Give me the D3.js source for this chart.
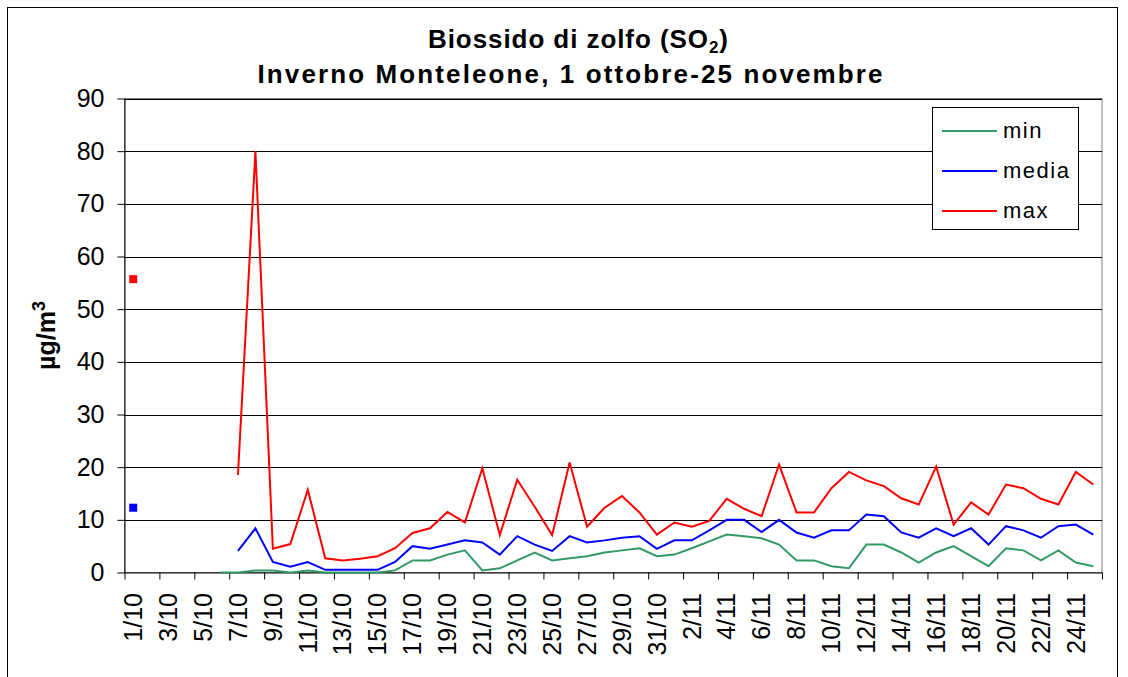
<!DOCTYPE html>
<html>
<head>
<meta charset="utf-8">
<script src="https://cdn.jsdelivr.net/npm/d3@7"></script>
<style>
    body { margin: 0; background: #fff; }
    svg { display: block; font-family: 'Liberation Sans', Arial, sans-serif; }
</style>
</head>
<body>
<svg id="chart" width="1128" height="677"></svg>
<script>
const WIDTH = 1128, HEIGHT = 677;
const margin = { left: 124.5, right: 1102, top: 98.5, bottom: 572.5 };

const days = [
    '1/10', '2/10', '3/10', '4/10', '5/10', '6/10', '7/10', '8/10', '9/10', '10/10',
    '11/10', '12/10', '13/10', '14/10', '15/10', '16/10', '17/10', '18/10', '19/10', '20/10',
    '21/10', '22/10', '23/10', '24/10', '25/10', '26/10', '27/10', '28/10', '29/10', '30/10',
    '31/10', '1/11', '2/11', '3/11', '4/11', '5/11', '6/11', '7/11', '8/11', '9/11',
    '10/11', '11/11', '12/11', '13/11', '14/11', '15/11', '16/11', '17/11', '18/11', '19/11',
    '20/11', '21/11', '22/11', '23/11', '24/11', '25/11'
];

const minValues = [
    null, null, null, null, null, 0, 0, 0.4, 0.4, 0,
    0.4, 0, 0, 0, 0, 0.4, 2.3, 2.3, 3.4, 4.2,
    0.4, 0.8, 2.3, 3.8, 2.3, 2.7, 3.1, 3.8, 4.2, 4.6,
    3.1, 3.4, 4.6, 5.9, 7.2, 6.9, 6.5, 5.3, 2.3, 2.3,
    1.2, 0.8, 5.3, 5.3, 3.8, 1.9, 3.8, 5.0, 3.1, 1.2,
    4.6, 4.2, 2.3, 4.2, 1.9, 1.2
];

const mediaValues = [
    12.3, null, null, null, null, null, 4.1, 8.4, 2.0, 1.1,
    2.0, 0.5, 0.5, 0.5, 0.5, 2.0, 5.0, 4.5, 5.3, 6.1,
    5.7, 3.4, 6.9, 5.3, 4.1, 6.9, 5.7, 6.1, 6.6, 6.9,
    4.5, 6.1, 6.1, 8.0, 10.0, 10.0, 7.7, 10.0, 7.6, 6.6,
    8.0, 8.0, 11.0, 10.7, 7.6, 6.6, 8.4, 6.9, 8.4, 5.3,
    8.8, 8.0, 6.6, 8.8, 9.1, 7.2
];

const maxValues = [
    55.7, null, null, null, null, null, 18.5, 80, 4.5, 5.4,
    15.7, 2.7, 2.3, 2.6, 3.1, 4.6, 7.5, 8.4, 11.5, 9.5,
    19.8, 7.1, 17.6, 12.5, 7.1, 20.9, 8.7, 12.3, 14.5, 11.4,
    7.2, 9.5, 8.7, 9.8, 14.0, 12.1, 10.7, 20.5, 11.4, 11.4,
    16.0, 19.1, 17.5, 16.4, 14.1, 12.9, 20.1, 9.1, 13.3, 11.0,
    16.7, 16.0, 14.0, 12.9, 19.1, 16.7
];

const yTicks = [0, 10, 20, 30, 40, 50, 60, 70, 80, 90];
const seriesNames = ['min', 'media', 'max'];
const seriesColors = ['#339966', '#0000ff', '#ff0000'];
const series = [minValues, mediaValues, maxValues];

const svg = d3.select('#chart');

// chart area border
svg.append('rect')
    .attr('x', 7.5).attr('y', 7.5)
    .attr('width', 1110).attr('height', 690)
    .attr('fill', '#fff')
    .attr('stroke', '#000');

const x = d3.scaleBand().domain(days).range([margin.left, margin.right]).padding(0);
const xEdge = d3.scaleLinear().domain([0, days.length]).range([margin.left, margin.right]);
const y = d3.scaleLinear().domain([0, 90]).range([margin.bottom, margin.top]);
const cx = (i) => x(days[i]) + x.bandwidth() / 2;

// plot border
svg.append('rect')
    .attr('x', margin.left).attr('y', margin.top)
    .attr('width', margin.right - margin.left)
    .attr('height', margin.bottom - margin.top)
    .attr('fill', 'none')
    .attr('stroke', '#808080');

// gridlines
svg.append('g')
    .selectAll('line')
    .data(yTicks.filter(d => d > 0))
    .join('line')
    .attr('x1', margin.left).attr('x2', margin.right)
    .attr('y1', d => Math.round(y(d)) + 0.5).attr('y2', d => Math.round(y(d)) + 0.5)
    .attr('stroke', '#000');

// y axis
const yAxis = svg.append('g')
    .attr('transform', `translate(${margin.left},0)`)
    .call(d3.axisLeft(y).tickValues(yTicks).tickSize(7).tickPadding(13).tickSizeOuter(0));
yAxis.select('.domain').attr('stroke', '#000');
yAxis.selectAll('.tick text')
    .attr('font-size', 25)
    .attr('font-family', "'Liberation Sans', Arial, sans-serif")
    .attr('fill', '#000');

// x axis: ticks between categories
const xTickAxis = svg.append('g')
    .attr('transform', `translate(0,${margin.bottom})`)
    .call(d3.axisBottom(xEdge).tickValues(d3.range(0, days.length + 1, 2)).tickSize(7).tickFormat('').tickSizeOuter(0));
xTickAxis.select('.domain').attr('stroke', '#000');

// x labels every other day
svg.append('g')
    .selectAll('text')
    .data(days.filter((d, i) => i % 2 == 0))
    .join('text')
    .attr('transform', d => `translate(${x(d) + x.bandwidth() / 2},593) rotate(-90)`)
    .attr('text-anchor', 'end')
    .attr('dy', '0.35em')
    .attr('font-size', 25)
    .attr('fill', '#000')
    .text(d => d);

// series lines
const line = d3.line()
    .defined(d => d != null)
    .x((d, i) => cx(i))
    .y(d => y(d));

series.forEach((values, s) => {
    svg.append('path')
        .datum(values)
        .attr('fill', 'none')
        .attr('stroke', seriesColors[s])
        .attr('stroke-width', 2)
        .attr('stroke-linejoin', 'miter')
        .attr('d', line);

    // isolated points only show as small squares
    const lonely = values
        .map((v, i) => ({ v, i }))
        .filter(p => p.v != null && values[p.i - 1] == null && values[p.i + 1] == null);
    svg.append('g')
        .selectAll('rect')
        .data(lonely)
        .join('rect')
        .attr('x', p => cx(p.i) - 4)
        .attr('y', p => y(p.v) - 4)
        .attr('width', 8).attr('height', 8)
        .attr('fill', seriesColors[s]);
});

// titles
const title1 = svg.append('text')
    .attr('x', 578).attr('y', 48)
    .attr('text-anchor', 'middle')
    .attr('font-size', 26).attr('font-weight', 'bold')
    .attr('textLength', 300).attr('lengthAdjust', 'spacing');
title1.append('tspan').text('Biossido di zolfo (SO');
title1.append('tspan').attr('font-size', 17).attr('dy', 5).text('2');
title1.append('tspan').attr('dy', -5).text(')');

svg.append('text')
    .attr('x', 570).attr('y', 83)
    .attr('text-anchor', 'middle')
    .attr('font-size', 26).attr('font-weight', 'bold')
    .attr('textLength', 625).attr('lengthAdjust', 'spacing')
    .text('Inverno Monteleone, 1 ottobre-25 novembre');

// y axis title
const yTitle = svg.append('text')
    .attr('transform', `translate(55,${(margin.top + margin.bottom) / 2}) rotate(-90)`)
    .attr('text-anchor', 'middle')
    .attr('font-size', 25).attr('font-weight', 'bold');
yTitle.append('tspan').text('µg/m');
yTitle.append('tspan').attr('font-size', 18).attr('dy', -10).text('3');

// legend
const legend = svg.append('g');
legend.append('rect')
    .attr('x', 932.5).attr('y', 107.5)
    .attr('width', 146).attr('height', 122)
    .attr('fill', '#fff')
    .attr('stroke', '#000');
const legendRows = legend.selectAll('g')
    .data(seriesNames)
    .join('g')
    .attr('transform', (d, i) => `translate(0,${131 + i * 40})`);
legendRows.append('line')
    .attr('x1', 942).attr('x2', 997)
    .attr('stroke', (d, i) => seriesColors[i])
    .attr('stroke-width', 2);
legendRows.append('text')
    .attr('x', 1003)
    .attr('dy', '0.33em')
    .attr('font-size', 22)
    .attr('letter-spacing', 1.5)
    .text(d => d);
</script>
</body>
</html>
